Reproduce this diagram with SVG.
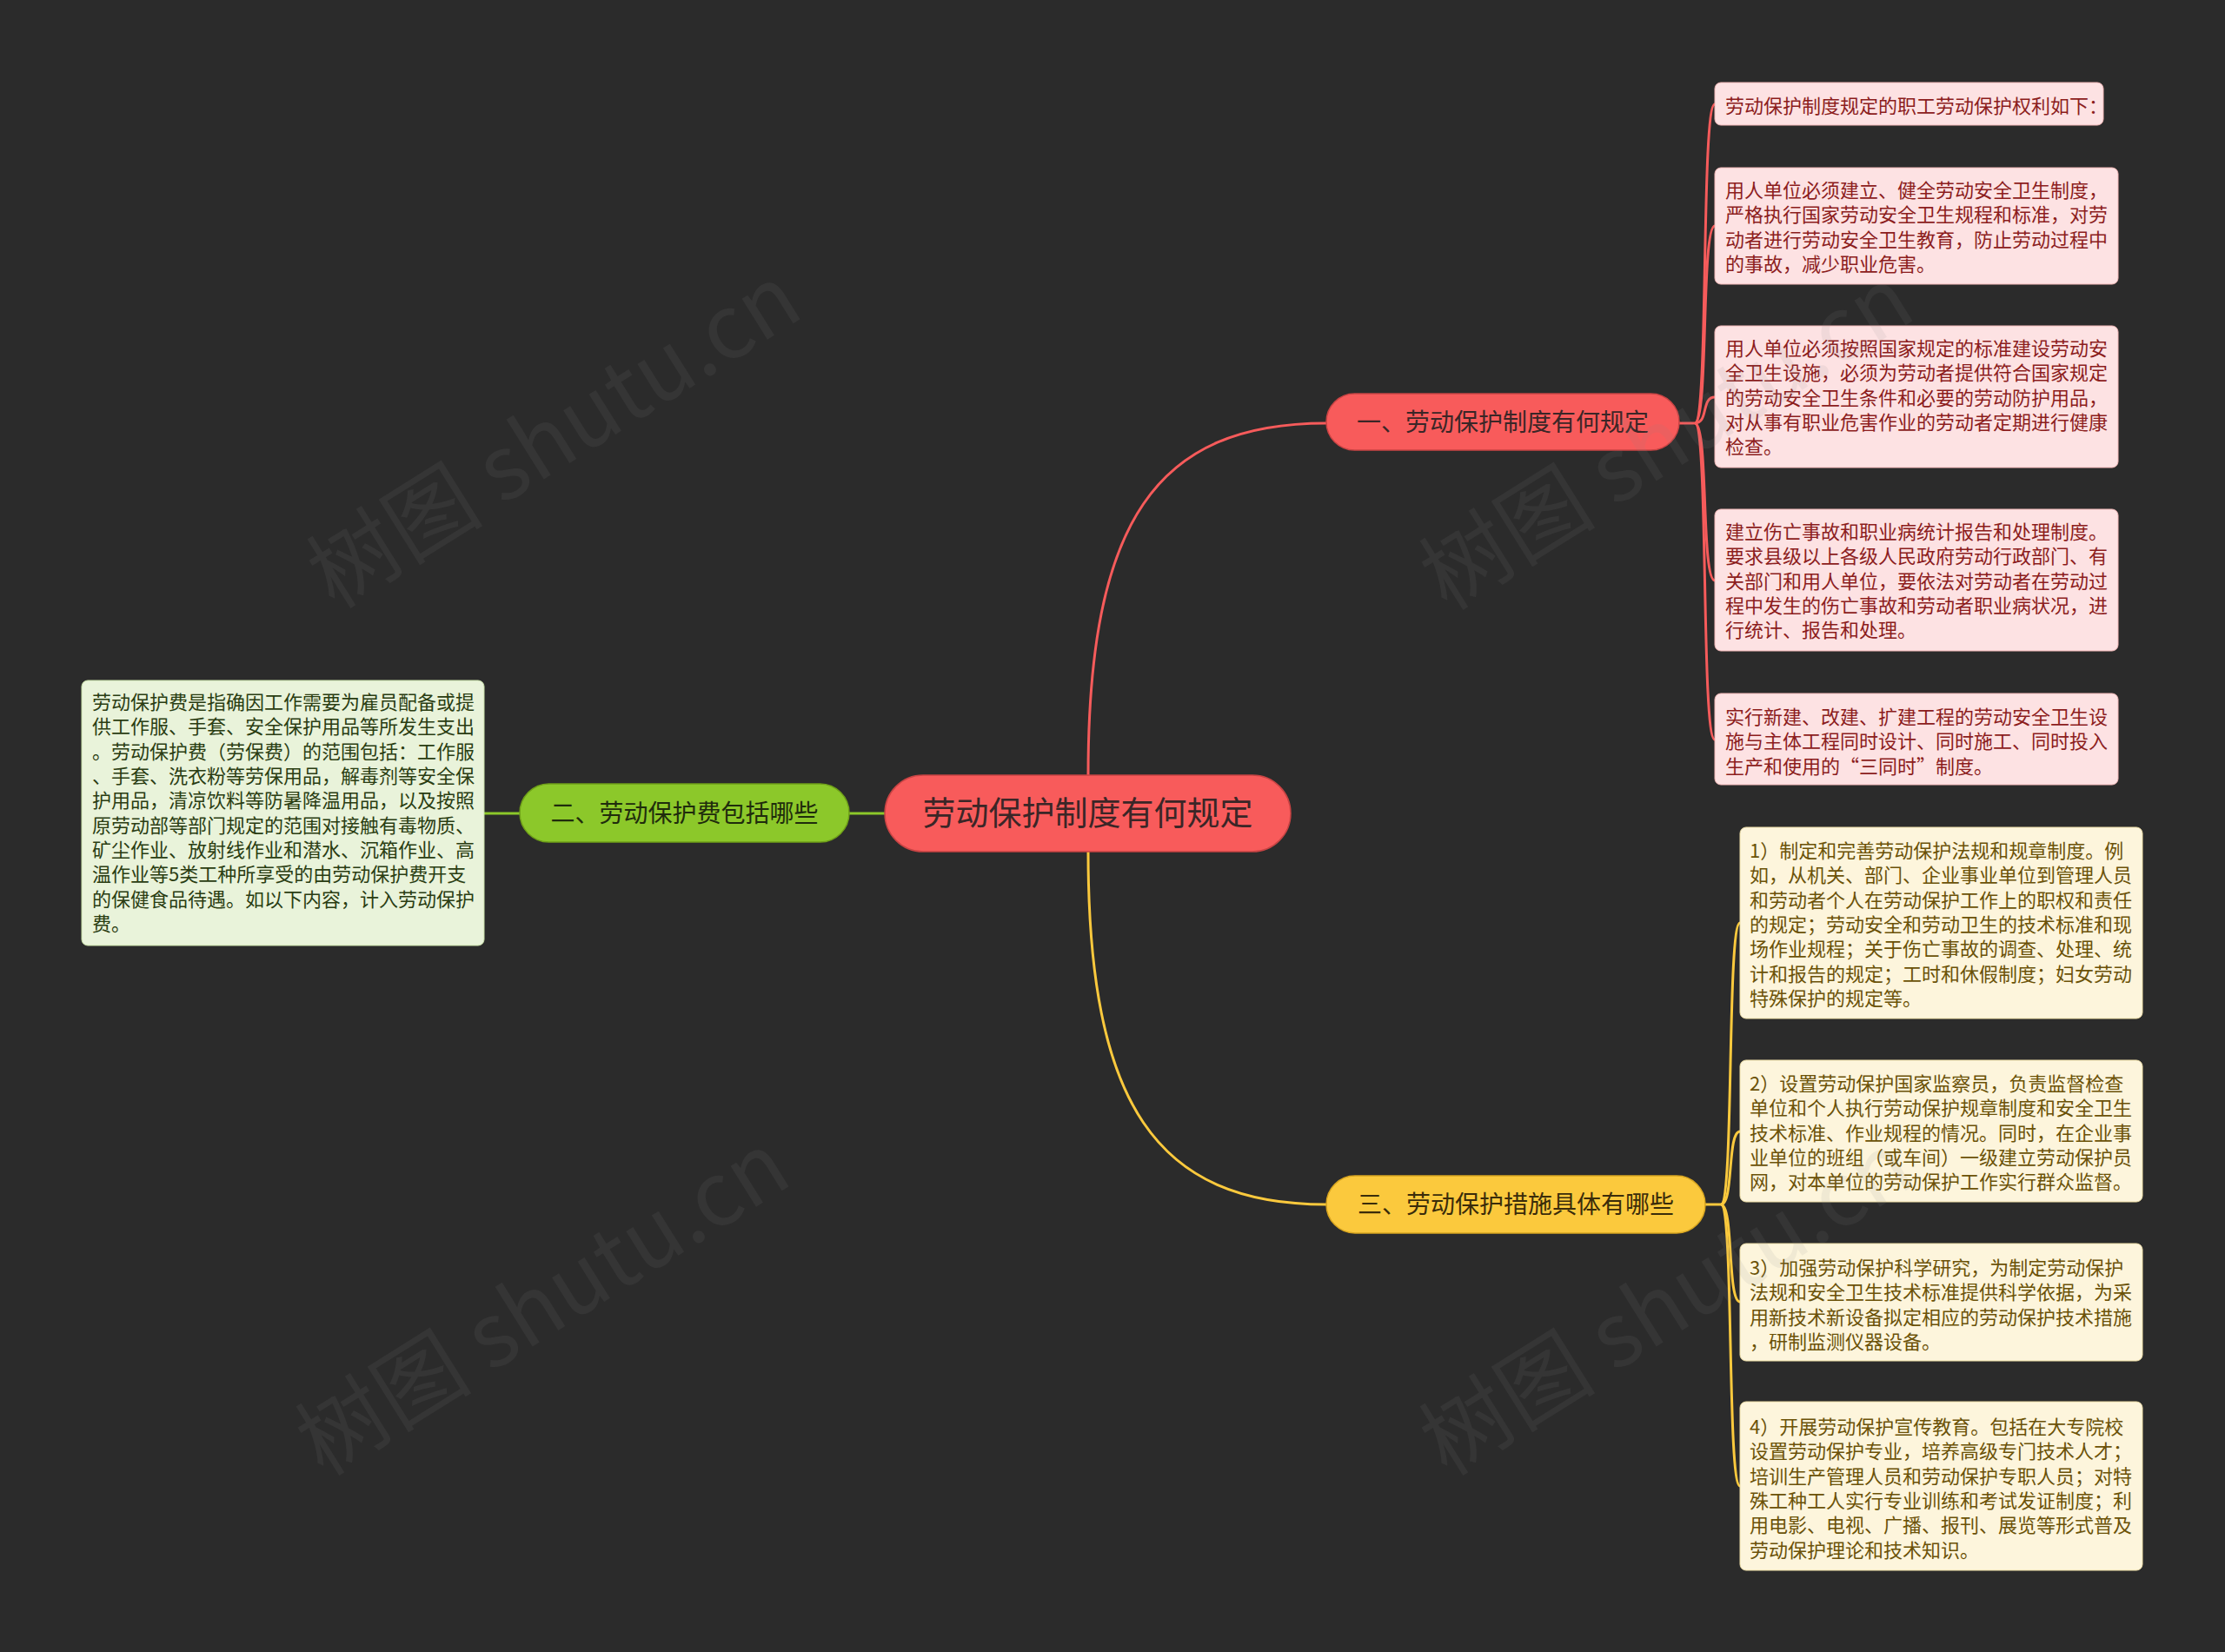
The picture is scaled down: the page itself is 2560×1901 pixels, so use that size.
<svg xmlns="http://www.w3.org/2000/svg" width="2560" height="1901" viewBox="0 0 2560 1901">
<style>
.bg{fill:#2b2b2b}
text{font-family:"Noto Sans CJK SC","Noto Sans",sans-serif}
.leaf{font-size:22px}
.rl{fill:#fde2e3;stroke:#f2b8b8;stroke-width:1}
.rt{fill:#8c1d1d}
.gl{fill:#e9f3da;stroke:#c8e0a8;stroke-width:1}
.gt{fill:#2a3d12}
.yl{fill:#fdf5dc;stroke:#eedfa8;stroke-width:1}
.yt{fill:#6b5208}
.br{font-size:28px;text-anchor:middle}
.cr{fill:none;stroke:#f65b5b;stroke-width:3}
.cg{fill:none;stroke:#8cc82a;stroke-width:3}
.cy{fill:none;stroke:#fbc93d;stroke-width:3}
.wm{font-family:"Noto Sans CJK SC",sans-serif;font-size:102px;fill:#8a8a8a;opacity:0.1}
</style>
<rect class="bg" x="0" y="0" width="2560" height="1901"/>

<g id="connectors">
<path class="cr" d="M1252,936 L1252,892 C1252,600 1330,487 1526,487"/>
<path class="cy" d="M1252,936 L1252,980 C1252,1270 1330,1386 1526,1386"/>
<path class="cg" d="M1018,936 L977,936"/>
<path class="cg" d="M598,936 L557,936"/>
<path class="cr" stroke-width="2.5" d="M1932,487 L1950,487"/>
<path class="cr" stroke-width="2.5" d="M1950,487 C1966,487 1957,120 1973,120"/>
<path class="cr" stroke-width="2.5" d="M1950,487 C1966,487 1957,260 1973,260"/>
<path class="cr" stroke-width="2.5" d="M1950,487 C1966,487 1957,457 1973,457"/>
<path class="cr" stroke-width="2.5" d="M1950,487 C1966,487 1957,668 1973,668"/>
<path class="cr" stroke-width="2.5" d="M1950,487 C1966,487 1957,851 1973,851"/>
<path class="cy" stroke-width="2.5" d="M1962,1386 L1980,1386"/>
<path class="cy" stroke-width="2.5" d="M1980,1386 C1995,1386 1987,1062 2002,1062"/>
<path class="cy" stroke-width="2.5" d="M1980,1386 C1995,1386 1987,1302 2002,1302"/>
<path class="cy" stroke-width="2.5" d="M1980,1386 C1995,1386 1987,1498 2002,1498"/>
<path class="cy" stroke-width="2.5" d="M1980,1386 C1995,1386 1987,1710 2002,1710"/>
</g>

<g id="center">
<rect x="1018" y="892" width="467" height="88" rx="44" fill="#f85b5b" stroke="#c94444" stroke-width="1.5"/>
<text x="1251.5" y="949" font-size="38" text-anchor="middle" fill="#3b2627">劳动保护制度有何规定</text>
</g>

<g id="branch1">
<rect x="1526" y="453" width="406" height="65" rx="32.5" fill="#f85b5b" stroke="#c94444" stroke-width="1.5"/>
<text class="br" x="1729" y="496" fill="#3b2627">一、劳动保护制度有何规定</text>
</g>

<g id="branch2">
<rect x="598" y="902" width="379" height="67" rx="33.5" fill="#8cc82a" stroke="#6fa018" stroke-width="1.5"/>
<text class="br" x="787.5" y="946" fill="#1f2c0c">二、劳动保护费包括哪些</text>
</g>

<g id="branch3">
<rect x="1526" y="1353" width="436" height="66" rx="33" fill="#fbc93d" stroke="#d8a520" stroke-width="1.5"/>
<text class="br" x="1744" y="1396" fill="#3a2c0a">三、劳动保护措施具体有哪些</text>
</g>

<g id="leaf-r1">
<rect class="rl" x="1973" y="95" width="447" height="49" rx="7"/>
<text class="leaf rt" x="1985" y="130">劳动保护制度规定的职工劳动保护权利如下：</text>
</g>

<g id="leaf-r2">
<rect class="rl" x="1973" y="193" width="464" height="134" rx="7"/>
<text class="leaf rt"><tspan x="1985" y="227">用人单位必须建立、健全劳动安全卫生制度，</tspan><tspan x="1985" y="255.3">严格执行国家劳动安全卫生规程和标准，对劳</tspan><tspan x="1985" y="283.6">动者进行劳动安全卫生教育，防止劳动过程中</tspan><tspan x="1985" y="312">的事故，减少职业危害。</tspan></text>
</g>

<g id="leaf-r3">
<rect class="rl" x="1973" y="375" width="464" height="163" rx="7"/>
<text class="leaf rt"><tspan x="1985" y="409">用人单位必须按照国家规定的标准建设劳动安</tspan><tspan x="1985" y="437.3">全卫生设施，必须为劳动者提供符合国家规定</tspan><tspan x="1985" y="465.6">的劳动安全卫生条件和必要的劳动防护用品，</tspan><tspan x="1985" y="494">对从事有职业危害作业的劳动者定期进行健康</tspan><tspan x="1985" y="522.3">检查。</tspan></text>
</g>

<g id="leaf-r4">
<rect class="rl" x="1973" y="586" width="464" height="163" rx="7"/>
<text class="leaf rt"><tspan x="1985" y="620">建立伤亡事故和职业病统计报告和处理制度。</tspan><tspan x="1985" y="648.3">要求县级以上各级人民政府劳动行政部门、有</tspan><tspan x="1985" y="676.6">关部门和用人单位，要依法对劳动者在劳动过</tspan><tspan x="1985" y="705">程中发生的伤亡事故和劳动者职业病状况，进</tspan><tspan x="1985" y="733.3">行统计、报告和处理。</tspan></text>
</g>

<g id="leaf-r5">
<rect class="rl" x="1973" y="798" width="464" height="105" rx="7"/>
<text class="leaf rt"><tspan x="1985" y="833">实行新建、改建、扩建工程的劳动安全卫生设</tspan><tspan x="1985" y="861.3">施与主体工程同时设计、同时施工、同时投入</tspan><tspan x="1985" y="889.6">生产和使用的“三同时”制度。</tspan></text>
</g>

<g id="leaf-g1">
<rect class="gl" x="94" y="783" width="463" height="305" rx="7"/>
<text class="leaf gt"><tspan x="106" y="816">劳动保护费是指确因工作需要为雇员配备或提</tspan><tspan x="106" y="844.3">供工作服、手套、安全保护用品等所发生支出</tspan><tspan x="106" y="872.6">。劳动保护费（劳保费）的范围包括：工作服</tspan><tspan x="106" y="901">、手套、洗衣粉等劳保用品，解毒剂等安全保</tspan><tspan x="106" y="929.3">护用品，清凉饮料等防暑降温用品，以及按照</tspan><tspan x="106" y="957.6">原劳动部等部门规定的范围对接触有毒物质、</tspan><tspan x="106" y="986">矿尘作业、放射线作业和潜水、沉箱作业、高</tspan><tspan x="106" y="1014.3">温作业等5类工种所享受的由劳动保护费开支</tspan><tspan x="106" y="1042.6">的保健食品待遇。如以下内容，计入劳动保护</tspan><tspan x="106" y="1071">费。</tspan></text>
</g>

<g id="leaf-y1">
<rect class="yl" x="2002" y="952" width="463" height="220" rx="7"/>
<text class="leaf yt"><tspan x="2013" y="987">1）制定和完善劳动保护法规和规章制度。例</tspan><tspan x="2013" y="1015.3">如，从机关、部门、企业事业单位到管理人员</tspan><tspan x="2013" y="1043.6">和劳动者个人在劳动保护工作上的职权和责任</tspan><tspan x="2013" y="1072">的规定；劳动安全和劳动卫生的技术标准和现</tspan><tspan x="2013" y="1100.3">场作业规程；关于伤亡事故的调查、处理、统</tspan><tspan x="2013" y="1128.6">计和报告的规定；工时和休假制度；妇女劳动</tspan><tspan x="2013" y="1157">特殊保护的规定等。</tspan></text>
</g>

<g id="leaf-y2">
<rect class="yl" x="2002" y="1220" width="463" height="163" rx="7"/>
<text class="leaf yt"><tspan x="2013" y="1255">2）设置劳动保护国家监察员，负责监督检查</tspan><tspan x="2013" y="1283.3">单位和个人执行劳动保护规章制度和安全卫生</tspan><tspan x="2013" y="1311.6">技术标准、作业规程的情况。同时，在企业事</tspan><tspan x="2013" y="1340">业单位的班组（或车间）一级建立劳动保护员</tspan><tspan x="2013" y="1368.3">网，对本单位的劳动保护工作实行群众监督。</tspan></text>
</g>

<g id="leaf-y3">
<rect class="yl" x="2002" y="1431" width="463" height="135" rx="7"/>
<text class="leaf yt"><tspan x="2013" y="1467">3）加强劳动保护科学研究，为制定劳动保护</tspan><tspan x="2013" y="1495.3">法规和安全卫生技术标准提供科学依据，为采</tspan><tspan x="2013" y="1523.6">用新技术新设备拟定相应的劳动保护技术措施</tspan><tspan x="2013" y="1552">，研制监测仪器设备。</tspan></text>
</g>

<g id="leaf-y4">
<rect class="yl" x="2002" y="1613" width="463" height="194" rx="7"/>
<text class="leaf yt"><tspan x="2013" y="1650">4）开展劳动保护宣传教育。包括在大专院校</tspan><tspan x="2013" y="1678.3">设置劳动保护专业，培养高级专门技术人才；</tspan><tspan x="2013" y="1706.6">培训生产管理人员和劳动保护专职人员；对特</tspan><tspan x="2013" y="1735">殊工种工人实行专业训练和考试发证制度；利</tspan><tspan x="2013" y="1763.3">用电影、电视、广播、报刊、展览等形式普及</tspan><tspan x="2013" y="1791.6">劳动保护理论和技术知识。</tspan></text>
</g>

<g id="watermarks">
<text class="wm" transform="translate(385,702) rotate(-32)">树图 shutu.cn</text>
<text class="wm" transform="translate(1665,704) rotate(-32)">树图 shutu.cn</text>
<text class="wm" transform="translate(372,1700) rotate(-32)">树图 shutu.cn</text>
<text class="wm" transform="translate(1665,1700) rotate(-32)">树图 shutu.cn</text>
</g>
</svg>
